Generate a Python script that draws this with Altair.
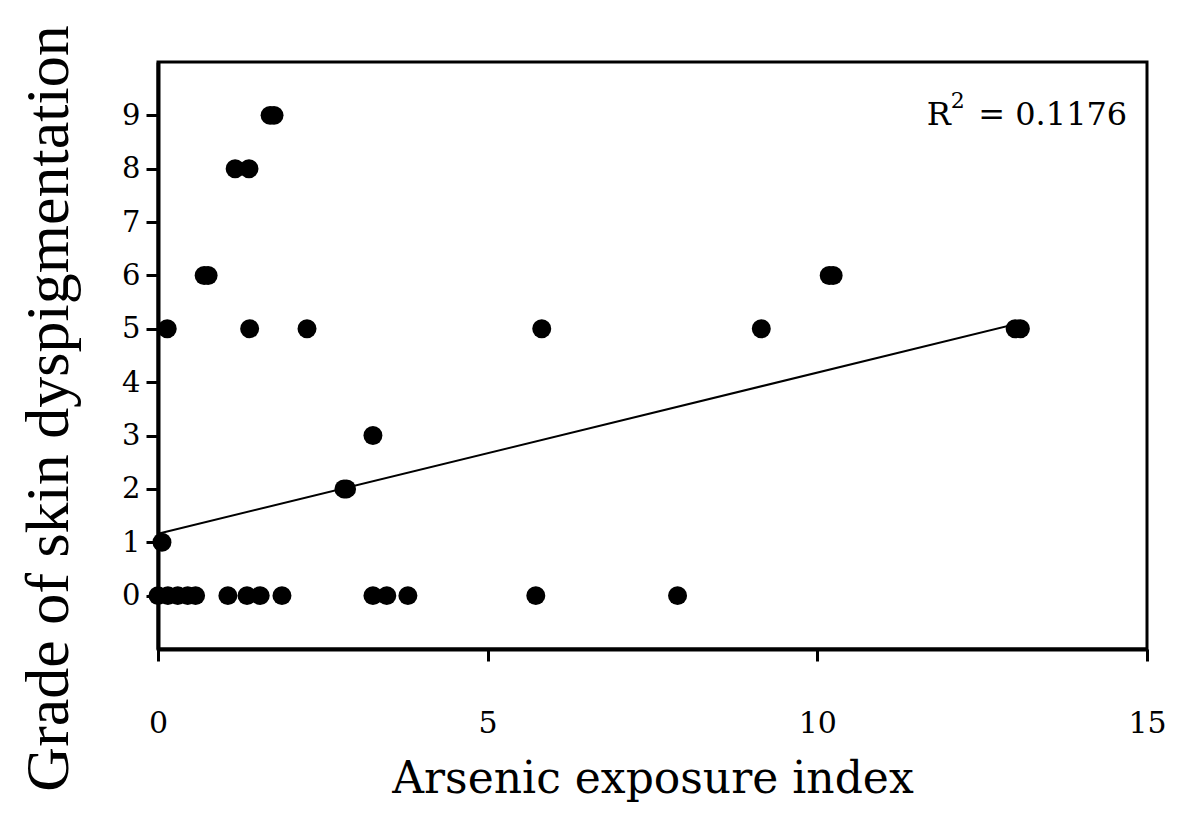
import altair as alt
import pandas as pd

# Arsenic exposure index and skin dyspigmentation grade per subject
exposure = [0.0, 0.15, 0.3, 0.45, 0.57, 1.06, 1.35, 1.55, 1.88, 3.26, 3.47, 3.79, 5.73, 7.88,
            0.06,
            2.82, 2.86,
            3.26,
            0.14, 1.39, 2.26, 5.82, 9.15, 13.0, 13.08,
            0.7, 0.76, 10.18, 10.24,
            1.17, 1.38,
            1.7, 1.76]
grade = [0, 0, 0, 0, 0, 0, 0, 0, 0, 0, 0, 0, 0, 0,
         1,
         2, 2,
         3,
         5, 5, 5, 5, 5, 5, 5,
         6, 6, 6, 6,
         8, 8,
         9, 9]

# Linear trend line end points
fit_x = [0.0, 13.05]
fit_y = [1.16, 5.10]

# Goodness-of-fit annotation: "R", superscript "2", and the value
r2_parts = ["R", "2", "= 0.1176"]
r2_x = [11.66, 11.66, 14.7]
r2_y = [9.0, 9.0, 9.0]

points = pd.DataFrame({"exposure": exposure, "grade": grade})
fit = pd.DataFrame({"exposure": fit_x, "grade": fit_y})
note = pd.DataFrame({"label": r2_parts, "x": r2_x, "y": r2_y})

x_scale = alt.Scale(domain=[0, 15], nice=False, zero=False)
y_scale = alt.Scale(domain=[-1, 10], nice=False, zero=False)

x_axis = alt.Axis(
    values=[0, 5, 10, 15], format="d", grid=False, tickSize=12, tickWidth=3, tickColor="black",
    domainColor="black", domainWidth=4,
    labelFont="DejaVu Serif", labelFontSize=30, labelColor="black",
    labelBaseline="alphabetic", labelPadding=71, labelFlush=False,
    title="Arsenic exposure index", titleFont="DejaVu Serif", titleFontSize=44,
    titleFontWeight="normal", titleColor="black", titleBaseline="alphabetic",
    titleY=143,
)
y_axis = alt.Axis(
    values=list(range(10)), format="d", grid=False, tickSize=12, tickWidth=3, tickColor="black",
    domainColor="black", domainWidth=4,
    labelFont="DejaVu Serif", labelFontSize=29, labelColor="black",
    labelPadding=6, labelBaseline="middle",
    title="Grade  of skin dyspigmentation", titleFont="Liberation Serif", titleFontSize=62,
    titleFontWeight="normal", titleColor="black", titleAngle=-90,
    titleAlign="center", titleBaseline="middle", titleX=-110, titleY=346,
)

dots = alt.Chart(points).mark_circle(size=360, color="black", opacity=1).encode(
    x=alt.X("exposure:Q", scale=x_scale, axis=x_axis),
    y=alt.Y("grade:Q", scale=y_scale, axis=y_axis),
)

trend = alt.Chart(fit).mark_line(color="black", strokeWidth=2).encode(
    x=alt.X("exposure:Q", scale=x_scale),
    y=alt.Y("grade:Q", scale=y_scale),
)

text_style = dict(font="DejaVu Serif", color="black")

r_letter = alt.Chart(note).transform_filter(alt.datum.label == "R").mark_text(
    fontSize=32, align="left", baseline="middle", **text_style
).encode(x=alt.X("x:Q", scale=x_scale), y=alt.Y("y:Q", scale=y_scale), text="label:N")

r_power = alt.Chart(note).transform_filter(alt.datum.label == "2").mark_text(
    fontSize=22, align="left", baseline="middle", dx=24, dy=-14, **text_style
).encode(x=alt.X("x:Q", scale=x_scale), y=alt.Y("y:Q", scale=y_scale), text="label:N")

r_value = alt.Chart(note).transform_filter(alt.datum.label == "= 0.1176").mark_text(
    fontSize=32, align="right", baseline="middle", **text_style
).encode(x=alt.X("x:Q", scale=x_scale), y=alt.Y("y:Q", scale=y_scale), text="label:N")

chart = (
    alt.layer(trend, dots, r_letter, r_power, r_value)
    .properties(
        width=989,
        height=587,
        autosize=alt.AutoSizeParams(type="none"),
        padding={"left": 158, "top": 62, "right": 34, "bottom": 175},
        background="white",
    )
    .configure_view(stroke="black", strokeWidth=3)
)

chart.save("out.html", embed_options={"renderer": "svg", "actions": False})
